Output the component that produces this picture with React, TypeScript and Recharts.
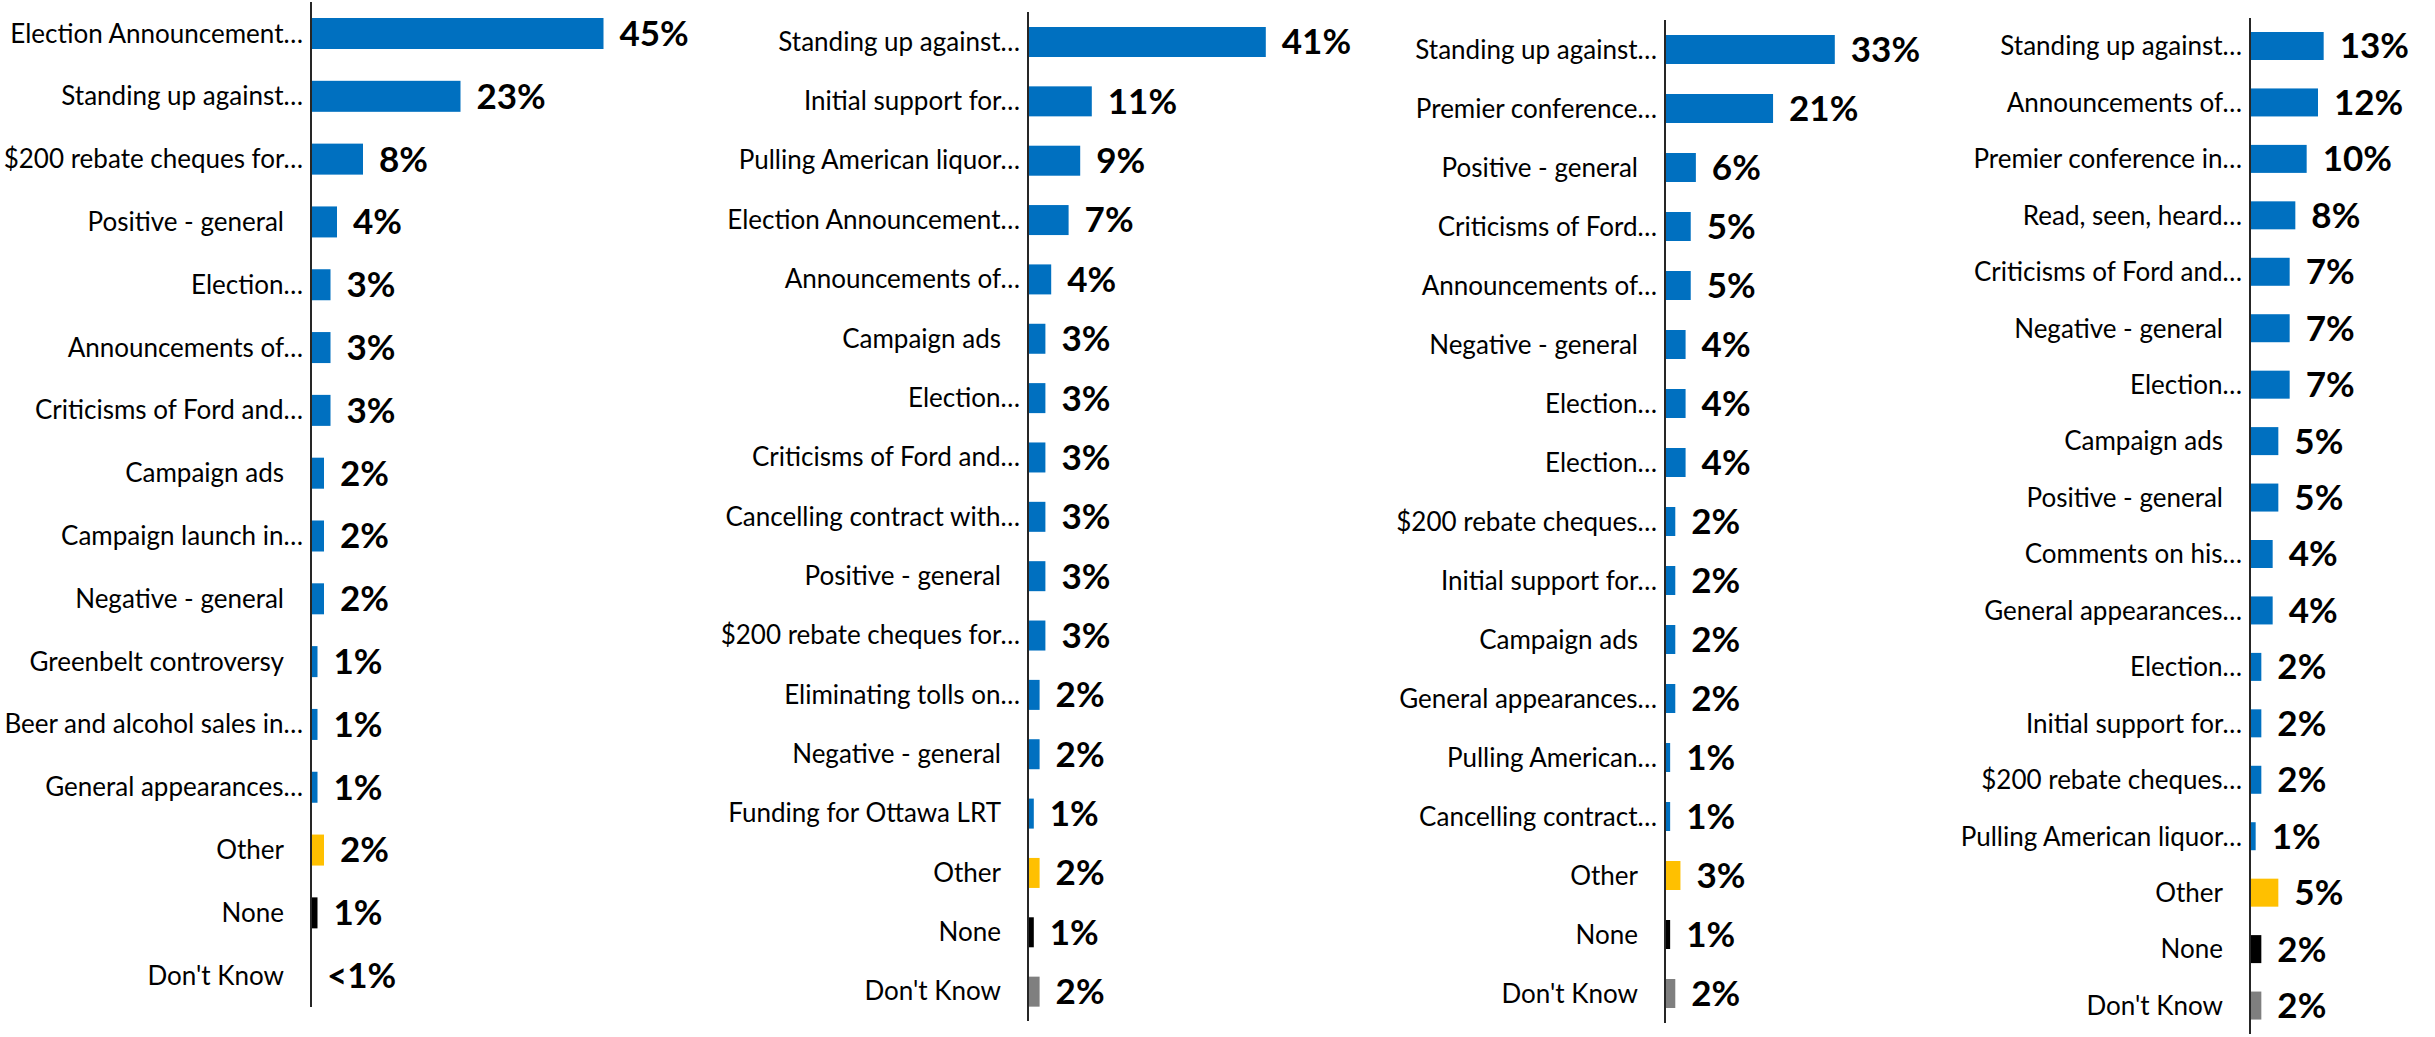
import { BarChart, Bar, XAxis, YAxis, LabelList } from 'recharts';

const p1Names = [
  'Election Announcement…', 'Standing up against…', '$200 rebate cheques for…', 'Positive - general',
  'Election…', 'Announcements of…', 'Criticisms of Ford and…', 'Campaign ads', 'Campaign launch in…',
  'Negative - general', 'Greenbelt controversy', 'Beer and alcohol sales in…', 'General appearances…',
  'Other', 'None', "Don't Know",
];
const p1Values = [45, 23, 8, 4, 3, 3, 3, 2, 2, 2, 1, 1, 1, 2, 1, 0];

const p2Names = [
  'Standing up against…', 'Initial support for…', 'Pulling American liquor…', 'Election Announcement…',
  'Announcements of…', 'Campaign ads', 'Election…', 'Criticisms of Ford and…', 'Cancelling contract with…',
  'Positive - general', '$200 rebate cheques for…', 'Eliminating tolls on…', 'Negative - general',
  'Funding for Ottawa LRT', 'Other', 'None', "Don't Know",
];
const p2Values = [41, 11, 9, 7, 4, 3, 3, 3, 3, 3, 3, 2, 2, 1, 2, 1, 2];

const p3Names = [
  'Standing up against…', 'Premier conference…', 'Positive - general', 'Criticisms of Ford…',
  'Announcements of…', 'Negative - general', 'Election…', 'Election…', '$200 rebate cheques…',
  'Initial support for…', 'Campaign ads', 'General appearances…', 'Pulling American…',
  'Cancelling contract…', 'Other', 'None', "Don't Know",
];
const p3Values = [33, 21, 6, 5, 5, 4, 4, 4, 2, 2, 2, 2, 1, 1, 3, 1, 2];

const p4Names = [
  'Standing up against…', 'Announcements of…', 'Premier conference in…', 'Read, seen, heard…',
  'Criticisms of Ford and…', 'Negative - general', 'Election…', 'Campaign ads', 'Positive - general',
  'Comments on his…', 'General appearances…', 'Election…', 'Initial support for…', '$200 rebate cheques…',
  'Pulling American liquor…', 'Other', 'None', "Don't Know",
];
const p4Values = [13, 12, 10, 8, 7, 7, 7, 5, 5, 4, 4, 2, 2, 2, 1, 5, 2, 2];

const FONT = 'Lato, "Open Sans", sans-serif';

const colorFor = (name: string) => {
  if (name === 'Other') return '#FFC000';
  if (name === 'None') return '#000000';
  if (name === "Don't Know") return '#7F7F7F';
  return '#0070C0';
};

// labels without an ellipsis sit a bit further from the axis, like the source
const CategoryTick = (props: any) => {
  const { x, y, payload } = props;
  const label: string = payload.value;
  const shift = label.endsWith('…') ? 0 : 19;
  return (
    <text x={x - shift} y={y} dy="0.35em" textAnchor="end" fontSize={26} fill="#000" fontFamily={FONT}>
      {label}
    </text>
  );
};

const ColoredBar = (props: any) => {
  const { x, y, width, height, payload } = props;
  if (!width || width <= 0) return <g />;
  return <rect x={x} y={y} width={width} height={height} fill={colorFor(payload.name)} />;
};

type PanelProps = {
  names: string[];
  values: number[];
  left: number;
  axisWidth: number;
  top: number;
  bottom: number;
  maxValue: number;
  plotWidth: number;
  barSize: number;
};

function Panel({ names, values, left, axisWidth, top, bottom, maxValue, plotWidth, barSize }: PanelProps) {
  const data = names.map((name, i) => ({ name, value: values[i] }));
  return (
    <div style={{ position: 'absolute', left, top: 0 }}>
      <BarChart
        layout="vertical"
        width={axisWidth + plotWidth}
        height={1037}
        data={data}
        margin={{ top, right: 0, bottom, left: 0 }}
      >
        <XAxis type="number" domain={[0, maxValue]} hide />
        <YAxis
          type="category"
          dataKey="name"
          width={axisWidth}
          axisLine={{ stroke: '#262626', strokeWidth: 2 }}
          tickLine={false}
          tickSize={0}
          tickMargin={8}
          interval={0}
          tick={<CategoryTick />}
        />
        <Bar dataKey="value" barSize={barSize} fill="#0070C0" shape={ColoredBar} isAnimationActive={false}>
          <LabelList
            dataKey="value"
            position="right"
            offset={16}
            formatter={(v: any) => (v < 1 ? '<1%' : `${v}%`)}
            fill="#000"
            fontSize={35}
            fontWeight={700}
            fontFamily={FONT}
          />
        </Bar>
      </BarChart>
    </div>
  );
}

export default function App() {
  return (
    <div style={{ position: 'absolute', left: 0, top: 0, width: 2435, height: 1037, background: '#fff', overflow: 'hidden' }}>
      <Panel names={p1Names} values={p1Values} left={0} axisWidth={311} top={2} bottom={30} maxValue={60} plotWidth={390} barSize={31} />
      <Panel names={p2Names} values={p2Values} left={680} axisWidth={348} top={12} bottom={16} maxValue={60} plotWidth={348} barSize={30} />
      <Panel names={p3Names} values={p3Values} left={1300} axisWidth={365} top={20} bottom={14} maxValue={55} plotWidth={283} barSize={29} />
      <Panel names={p4Names} values={p4Values} left={1860} axisWidth={390} top={18} bottom={3} maxValue={30} plotWidth={170} barSize={28} />
    </div>
  );
}
